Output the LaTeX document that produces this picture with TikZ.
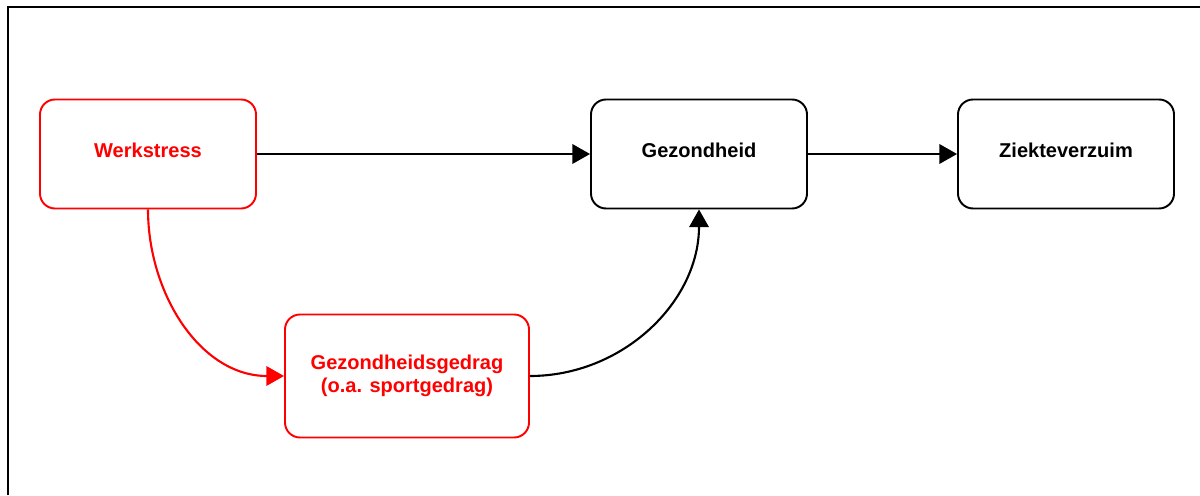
\documentclass[tikz,border=0pt]{standalone}
\usepackage{fontspec}
\setmainfont{Liberation Sans}
\usetikzlibrary{arrows.meta}

\begin{document}
\begin{tikzpicture}[
        box/.style={draw, line width=1.1pt, rounded corners=0.3cm, minimum width=4.32cm, minimum height=2.18cm,
            align=center, font=\fontsize{11.4}{13}\selectfont\bfseries, text height=8pt, text depth=4pt},
        redbox/.style={box, draw=red, text=red},
        link/.style={line width=1.2pt, -{Triangle[length=10pt, width=11pt]}}
    ]
        \useasboundingbox (0, 0) rectangle (24, 9.9);

        % Frame (cut off right and below)
        \draw[line width=1.1pt] (0.16, 0) -- (0.16, 9.76) -- (24, 9.76);

        % Boxes
        \node[redbox] (stress) at (2.96, 6.82) {Werkstress};
        \node[box] (health) at (13.98, 6.82) {Gezondheid};
        \node[box] (absence) at (21.32, 6.82) {Ziekteverzuim};
        \node[redbox, minimum width=4.88cm, minimum height=2.46cm, text height=, text depth=] (behaviour) at (8.14, 2.38)
            {Gezondheidsgedrag\\(o.a. sportgedrag)};

        % Direct path
        \draw[link] (stress) -- (health);
        \draw[link] (health) -- (absence);

        % Path via behaviour
        \draw[link, red] (stress.south) to[out=-90, in=180] (behaviour.west);
        \draw[link] (behaviour.east) to[out=0, in=-90] (health.south);
    \end{tikzpicture}
\end{document}
